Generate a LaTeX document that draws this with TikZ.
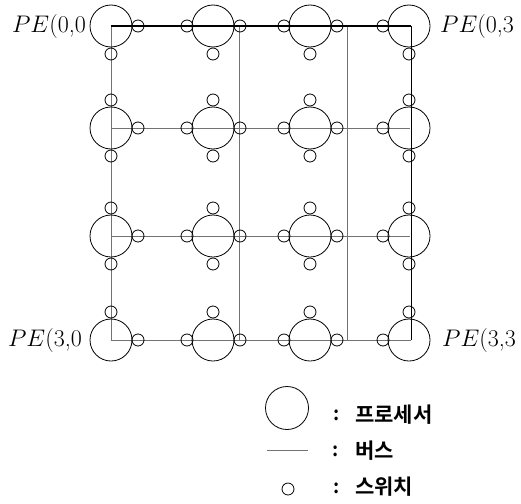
\RequirePackage{fix-cm}
\documentclass[tikz,border=0pt]{standalone}
\usepackage{fontspec}
\newfontfamily\kr{Noto Sans CJK KR}[BoldFont={Noto Sans CJK KR Bold}]
\begin{document}
\begin{tikzpicture}[x=1pt,y=-1pt,
  proc/.style={circle,draw,line width=0.8pt,minimum size=42pt,inner sep=0pt},
  sw/.style={circle,draw,line width=0.8pt,minimum size=12pt,inner sep=0pt},
  bus/.style={draw=black!55,line width=0.9pt},
  busdark/.style={draw=black,line width=1pt},
  bustop/.style={draw=black,line width=1.6pt},
  pelabel/.style={inner sep=0pt,font=\fontsize{24}{24}\selectfont},
  colon/.style={inner sep=0pt,font=\kr\bfseries\fontsize{19}{19}\selectfont},
  legtext/.style={inner sep=0pt,anchor=west,font=\kr\bfseries\fontsize{21}{22}\selectfont}]
\useasboundingbox (0,0) rectangle (521,503);
% bus coordinates
\coordinate (t0) at (111,26);  \coordinate (b0) at (111,340);
\coordinate (t1) at (239,26);  \coordinate (b1) at (239,340);
\coordinate (t2) at (347,26);  \coordinate (b2) at (347,340);
\coordinate (t3) at (411,26);  \coordinate (b3) at (411,340);
\coordinate (r1a) at (111,128); \coordinate (r1b) at (410,128);
\coordinate (r2a) at (111,236); \coordinate (r2b) at (410,236);
% buses
\draw[bus] (r1a) -- (r1b);
\draw[bus] (r2a) -- (r2b);
\draw[bus] (t0) -- (b0);
\draw[bus] (t1) -- (b1);
\draw[bus] (t2) -- (b2);
\draw[bus] (b0) -- (b3);
\draw[busdark] (t3) -- (b3);
\draw[bustop] (t0) -- (t3);
% processors and switches
\foreach \r/\y in {0/26,1/128,2/236,3/340}{
  \foreach \c/\x in {0/111,1/213,2/310,3/409}{
    \node[proc] (p\r\c) at (\x,\y) {};
    \ifnum\c<3 \node[sw] (s\r\c E) at (\x+27,\y) {};\fi
    \ifnum\c>0 \node[sw] (s\r\c W) at (\x-26,\y) {};\fi
    \ifnum\r>0 \node[sw] (s\r\c N) at (\x,\y-28) {};\fi
    \ifnum\r<3 \node[sw] (s\r\c S) at (\x,\y+28) {};\fi
  }
}
% labels
\node[pelabel,anchor=east] (l00) at (86,27) {$PE$(0,0};
\node[pelabel,anchor=west] (l03) at (440,27) {$PE$(0,3};
\node[pelabel,anchor=east] (l30) at (82,341) {$PE$(3,0};
\node[pelabel,anchor=west] (l33) at (442,341) {$PE$(3,3};
% legend
\node[proc,minimum size=43pt] (lgp) at (287,408) {};
\node[colon] (lgpc) at (337,415) {:};
\node[legtext] (lgpt) at (355,415) {프로세서};
\coordinate (lgl1) at (267,450); \coordinate (lgl2) at (308,450);
\draw[bus] (lgl1) -- (lgl2);
\node[colon] (lglc) at (336,451) {:};
\node[legtext] (lglt) at (355,451) {버스};
\node[sw] (lgs) at (288,489) {};
\node[colon] (lgsc) at (337,488) {:};
\node[legtext] (lgst) at (355,487) {스위치};
\end{tikzpicture}
\end{document}
